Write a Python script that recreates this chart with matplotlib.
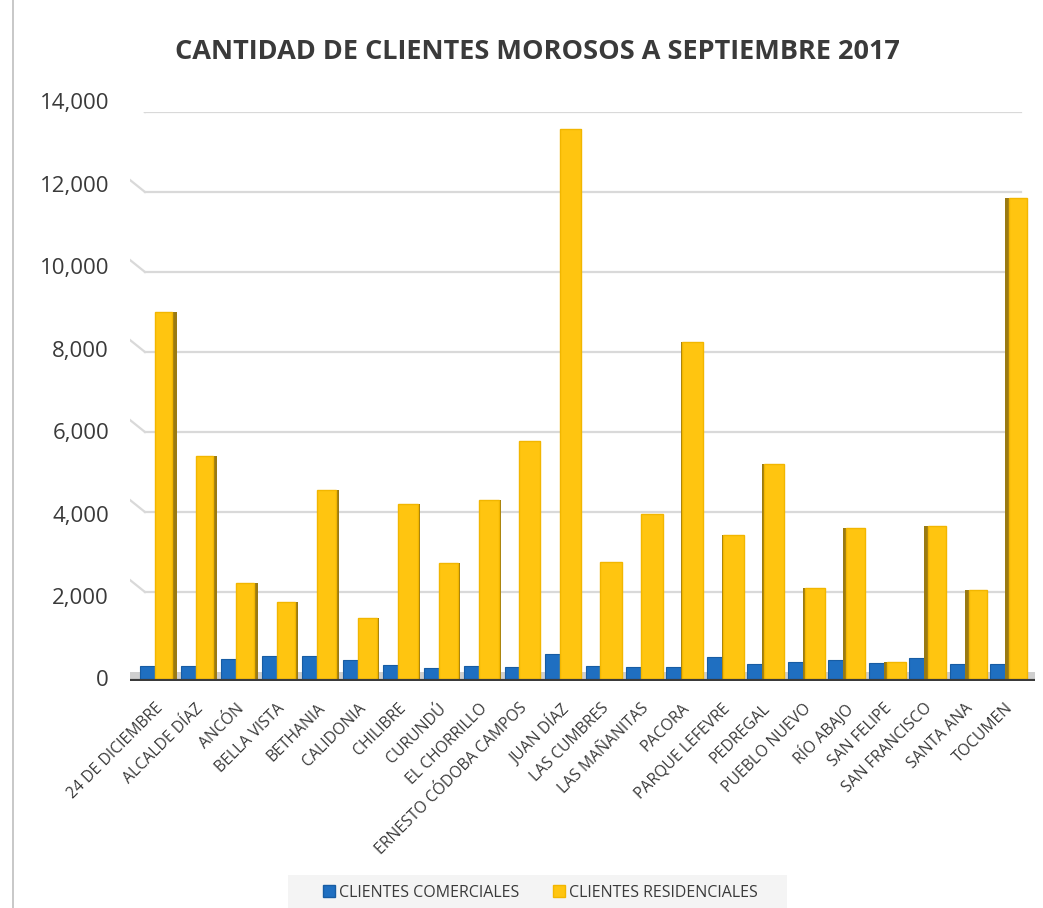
import numpy as np
import matplotlib
matplotlib.use("Agg")
import matplotlib.pyplot as plt
from matplotlib.patches import Rectangle
from matplotlib.lines import Line2D
from matplotlib.transforms import blended_transform_factory

plt.rcParams['font.family'] = ['Open Sans', 'DejaVu Sans']

corregimientos = ['24 DE DICIEMBRE', 'ALCALDE DÍAZ', 'ANCÓN', 'BELLA VISTA', 'BETHANIA',
                  'CALIDONIA', 'CHILIBRE', 'CURUNDÚ', 'EL CHORRILLO', 'ERNESTO CÓDOBA CAMPOS',
                  'JUAN DÍAZ', 'LAS CUMBRES', 'LAS MAÑANITAS', 'PACORA', 'PARQUE LEFEVRE',
                  'PEDREGAL', 'PUEBLO NUEVO', 'RÍO ABAJO', 'SAN FELIPE', 'SAN FRANCISCO',
                  'SANTA ANA', 'TOCUMEN']
comerciales = [150, 150, 330, 390, 390, 310, 170, 110, 150, 130, 460,
               150, 120, 120, 375, 200, 240, 290, 220, 340, 210, 210]
residenciales = [9000, 5400, 2230, 1740, 4550, 1340, 4190, 2720, 4290, 5780, 13580,
                 2740, 3950, 8260, 3430, 5200, 2110, 3600, 250, 3640, 2040, 11860]
yticks = [0, 2000, 4000, 6000, 8000, 10000, 12000, 14000]
titulo = 'CANTIDAD DE CLIENTES MOROSOS A SEPTIEMBRE 2017'
series = ['CLIENTES COMERCIALES', 'CLIENTES RESIDENCIALES']

AZUL = '#1F6FC1'
AZUL_BORDE = '#175CA3'
AMARILLO = '#FFC510'
AMARILLO_BORDE = '#F2B600'
LADO = '#9A7A12'
GRIS_TXT = '#3A3A3A'
FLOOR = 175  # profundidad visual del piso

fig = plt.figure(figsize=(10.43, 9.08), dpi=100)
ax = fig.add_axes([0.1246, 0.25, 0.8677, 0.6267])

x = np.arange(len(corregimientos))
com = np.array(comerciales)
res = np.array(residenciales)

# piso
ax.fill_between([-0.62, 21.73], -225, 0, color='#CFCFCF', zorder=1, lw=0)
ax.axhline(-225, color='#3A3A3A', lw=3, zorder=6)

# lineas de cuadricula con pequeño tramo en perspectiva
for v in yticks[1:]:
    ax.plot([-0.25, 21.38], [v, v], color='#D9D9D9', lw=1.6, zorder=0)
    ax.plot([-0.62, -0.25], [v + 300, v], color='#D9D9D9', lw=1.6, zorder=0)

# barras comerciales
ax.bar(x - 0.37, com + FLOOR, width=0.44, bottom=-FLOOR, align='edge',
       color=AZUL, edgecolor=AZUL_BORDE, lw=0.8, zorder=3)

# barras residenciales con cara lateral
centro = 11.5
lado_w = 0.0105 * np.abs(x - centro)
total_w = 0.54
izq = x >= centro
front_left = np.where(izq, x + lado_w, x)
front_w = total_w - lado_w
side_left = np.where(izq, x, x + total_w - lado_w)
ax.bar(side_left, res + FLOOR, width=lado_w, bottom=-FLOOR, align='edge',
       color=LADO, lw=0, zorder=4)
ax.bar(front_left, res + FLOOR, width=front_w, bottom=-FLOOR, align='edge',
       color=AMARILLO, edgecolor=AMARILLO_BORDE, lw=1.0, zorder=4)

ax.set_xlim(-0.62, 21.73)
ax.set_ylim(-225, 14000)
ax.set_yticks([])
# etiquetas del eje y en el borde frontal (perspectiva)
trans = blended_transform_factory(fig.transFigure, ax.transData)
for v in yticks:
    ax.text(109 / 1043, -225 + v * 14425 / 14000, f'{v:,}', transform=trans,
            ha='right', va='center', fontsize=16, color=GRIS_TXT)
ax.set_xticks(x)
ax.set_xticklabels(corregimientos, rotation=45, ha='right', rotation_mode='anchor',
                   fontsize=11.3, color=GRIS_TXT)
ax.tick_params(axis='x', length=0, pad=14)
for s in ax.spines.values():
    s.set_visible(False)

fig.text(0.515, 0.943, titulo, ha='center', va='center', fontsize=19.5,
         fontweight='bold', color=GRIS_TXT)

# leyenda
fig.patches.append(Rectangle((288 / 1043, 0), (787 - 288) / 1043, 33 / 908,
                             transform=fig.transFigure, facecolor='#F4F4F4',
                             edgecolor='none', zorder=0))
handles = [Line2D([], [], marker='s', ls='', markersize=9, markerfacecolor=AZUL,
                  markeredgecolor=AZUL_BORDE),
           Line2D([], [], marker='s', ls='', markersize=9, markerfacecolor=AMARILLO,
                  markeredgecolor=AMARILLO_BORDE)]
fig.legend(handles, series, loc='center', bbox_to_anchor=(0.517, 15 / 908), ncol=2,
           frameon=False, fontsize=11.5, handletextpad=0.1, columnspacing=2.0,
           labelcolor=GRIS_TXT, handlelength=1.0)

# borde izquierdo del grafico
fig.add_artist(Line2D([13 / 1043, 13 / 1043], [0, 1], color='#BFBFBF', lw=1.2,
                      transform=fig.transFigure))

fig.savefig('out.png', dpi=100)
